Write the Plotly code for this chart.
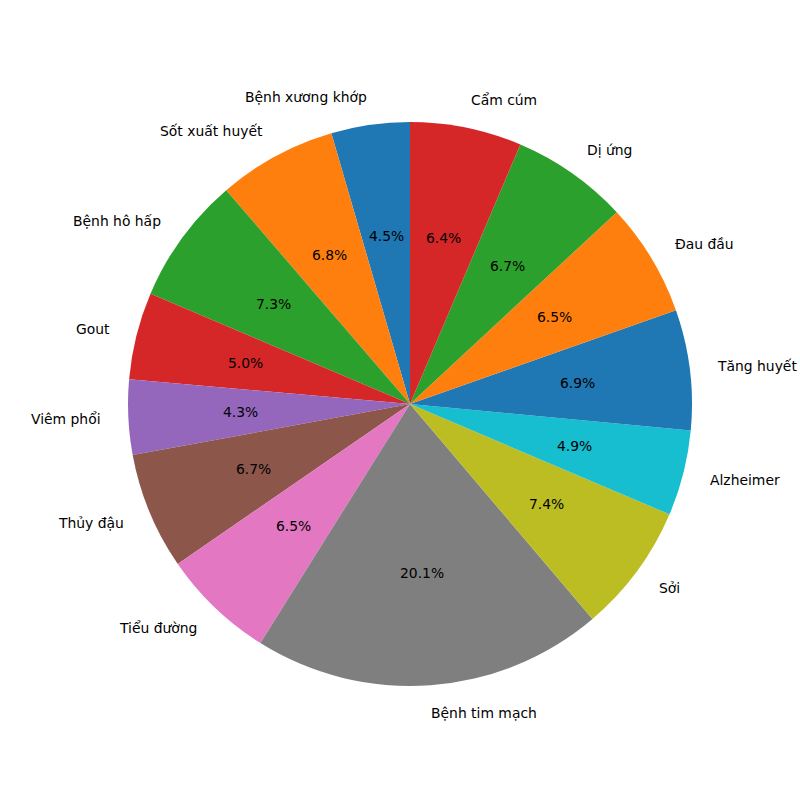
import math
import plotly.graph_objects as go

labels = ["Bệnh xương khớp", "Sốt xuất huyết", "Bệnh hô hấp", "Gout", "Viêm phổi",
          "Thủy đậu", "Tiểu đường", "Bệnh tim mạch", "Sởi", "Alzheimer",
          "Tăng huyết", "Đau đầu", "Dị ứng", "Cẩm cúm"]
values = [4.5, 6.8, 7.3, 5.0, 4.3, 6.7, 6.5, 20.1, 7.4, 4.9, 6.9, 6.5, 6.7, 6.4]
colors = ["#1f77b4", "#ff7f0e", "#2ca02c", "#d62728", "#9467bd", "#8c564b", "#e377c2",
          "#7f7f7f", "#bcbd22", "#17becf", "#1f77b4", "#ff7f0e", "#2ca02c", "#d62728"]

FONT = "DejaVu Sans"
FS = 13.9

total = sum(values)
# plotly's counterclockwise pies end the first slice at the rotation angle; shift so it starts at 12 o'clock
rot = -values[0] / total * 360

fig = go.Figure(go.Pie(
    labels=labels, values=values, sort=False, direction="counterclockwise",
    rotation=rot, textinfo="none", hoverinfo="skip", showlegend=False,
    marker=dict(colors=colors, line=dict(width=0)),
))

annotations = []
cum = 0.0
for lab, v in zip(labels, values):
    mid = math.radians(90 + (cum + v / 2) / total * 360)
    cum += v
    c, s = math.cos(mid), math.sin(mid)
    if c > 1e-9:
        xa, dx = "left", -3
    elif c < -1e-9:
        xa, dx = "right", 3
    else:
        xa, dx = "center", 0
    annotations.append(dict(x=0.5 + 0.5 * 1.1 * c, y=0.5 + 0.5 * 1.1 * s,
                            xref="paper", yref="paper", text=lab, showarrow=False,
                            xanchor=xa, yanchor="middle", xshift=dx,
                            font=dict(family=FONT, size=FS, color="black")))
    annotations.append(dict(x=0.5 + 0.5 * 0.6 * c, y=0.5 + 0.5 * 0.6 * s,
                            xref="paper", yref="paper", text="%.1f%%" % (v / total * 100),
                            showarrow=False, xanchor="center", yanchor="middle",
                            font=dict(family=FONT, size=FS, color="black")))

fig.update_layout(
    width=800, height=800,
    margin=dict(l=128, r=108, t=122, b=114),
    paper_bgcolor="white", plot_bgcolor="white",
    annotations=annotations,
)

fig.write_html("out.html")
